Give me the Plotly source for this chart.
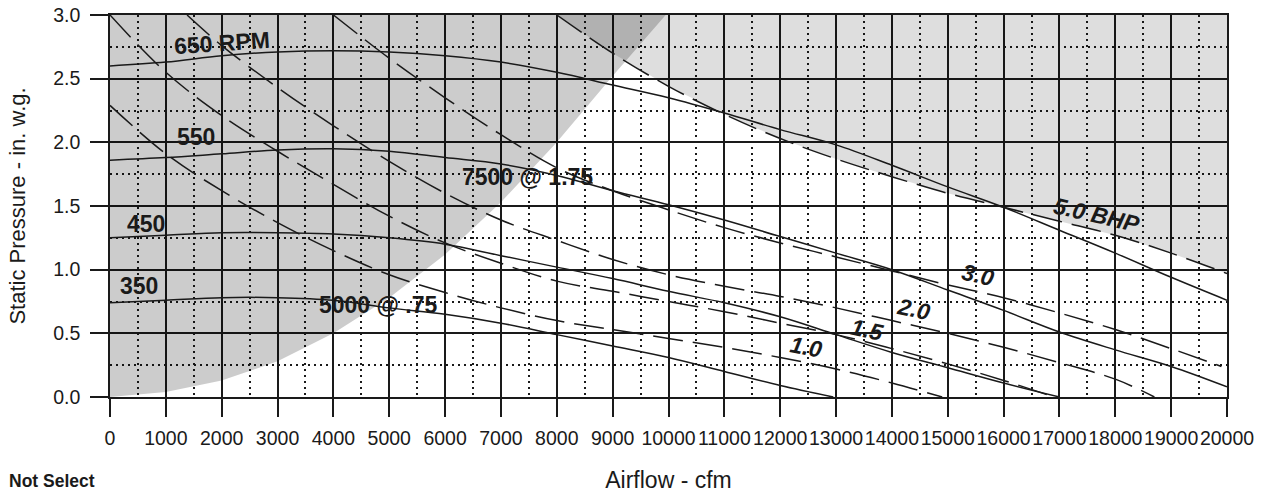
import plotly.graph_objects as go

# fan curves: airflow (cfm) vs static pressure (in. w.g.)
rpm_labels = ["650 RPM", "550", "450", "350"]

rpm650_x = [0, 1000, 2000, 3000, 4000, 5000, 6000, 7000, 8000, 9000, 10000,
            11000, 12000, 13000, 14000, 15000, 16000, 17000, 18000, 19000, 20000]
rpm650_y = [2.60, 2.63, 2.68, 2.71, 2.72, 2.71, 2.68, 2.63, 2.55, 2.45, 2.35,
            2.23, 2.10, 1.98, 1.82, 1.65, 1.49, 1.31, 1.13, 0.94, 0.76]

rpm550_x = [0, 1000, 2000, 3000, 4000, 5000, 6000, 7000, 8000, 9000, 10000,
            11000, 12000, 13000, 14000, 15000, 16000, 17000, 18000, 19000, 20000]
rpm550_y = [1.86, 1.88, 1.91, 1.94, 1.95, 1.93, 1.88, 1.83, 1.74, 1.62, 1.51,
            1.39, 1.26, 1.13, 1.00, 0.84, 0.68, 0.51, 0.37, 0.24, 0.08]

rpm450_x = [0, 1000, 2000, 3000, 4000, 5000, 6000, 7000, 8000, 9000, 10000,
            11000, 12000, 13000, 14000, 15000, 16000, 17000]
rpm450_y = [1.25, 1.27, 1.29, 1.29, 1.28, 1.25, 1.20, 1.11, 1.02, 0.93, 0.83,
            0.74, 0.63, 0.49, 0.35, 0.23, 0.11, 0.0]

rpm350_x = [0, 1000, 2000, 3000, 4000, 5000, 6000, 7000, 8000, 9000, 10000,
            11000, 12000, 12950]
rpm350_y = [0.74, 0.76, 0.78, 0.78, 0.76, 0.70, 0.65, 0.58, 0.49, 0.40, 0.31,
            0.20, 0.09, 0.0]

# brake horsepower lines (dashed)
bhp_labels = ["1.0", "1.5", "2.0", "3.0", "5.0 BHP"]

bhp10_x = [0, 1000, 2000, 3000, 4000, 5000, 6000, 7000, 8000, 9000, 10000,
           11000, 12000, 13000, 14000, 14900]
bhp10_y = [2.29, 1.91, 1.62, 1.37, 1.15, 0.96, 0.82, 0.70, 0.60, 0.53, 0.46,
           0.39, 0.31, 0.22, 0.11, 0.0]

bhp15_x = [0, 1000, 2000, 3000, 4000, 5000, 6000, 7000, 8000, 9000, 10000,
           11000, 12000, 13000, 14000, 15000, 16000, 16900]
bhp15_y = [3.0, 2.55, 2.21, 1.93, 1.67, 1.42, 1.21, 1.05, 0.91, 0.83, 0.75,
           0.67, 0.58, 0.49, 0.38, 0.26, 0.13, 0.0]

bhp20_x = [1380, 2000, 3000, 4000, 5000, 6000, 7000, 8000, 9000, 10000, 11000,
           12000, 13000, 14000, 15000, 16000, 17000, 18000, 18700]
bhp20_y = [3.0, 2.76, 2.43, 2.13, 1.85, 1.60, 1.39, 1.23, 1.08, 0.96, 0.87,
           0.79, 0.70, 0.60, 0.50, 0.39, 0.27, 0.14, 0.0]

bhp30_x = [4000, 5000, 6000, 7000, 8000, 9000, 10000, 11000, 12000, 13000,
           14000, 15000, 16000, 17000, 18000, 19000, 19900]
bhp30_y = [3.0, 2.66, 2.35, 2.06, 1.80, 1.62, 1.47, 1.33, 1.21, 1.10,
           0.99, 0.88, 0.78, 0.66, 0.53, 0.38, 0.24]

bhp50_x = [8000, 9000, 10000, 11000, 12000, 13000, 14000, 15000, 16000,
           17000, 18000, 19000, 20000]
bhp50_y = [3.0, 2.70, 2.44, 2.22, 2.03, 1.87, 1.73, 1.60, 1.49,
           1.38, 1.27, 1.13, 0.97]

# "do not select" zone (left of system curve) outline
zone_x = [0, 1000, 2000, 3000, 4000, 5000, 6000, 7000, 8000, 9000, 9950, 0]
zone_y = [0, 0.04, 0.13, 0.28, 0.50, 0.78, 1.12, 1.53, 2.0, 2.52, 3.0, 3.0]

# area above 5.0 BHP closed at the top-right corner
over_x = bhp50_x + [20000]
over_y = bhp50_y + [3.0]

point_labels = ["5000 @ .75", "7500 @ 1.75"]

FONT = "Liberation Sans, Arial, sans-serif"
INK = "#1a1a1a"

fig = go.Figure()

fig.add_trace(go.Scatter(x=zone_x, y=zone_y, fill="toself", mode="none",
                         fillcolor="rgba(0,0,0,0.20)", hoverinfo="skip"))
fig.add_trace(go.Scatter(x=over_x, y=over_y, fill="toself", mode="none",
                         fillcolor="rgba(0,0,0,0.13)", hoverinfo="skip"))

for xs, ys in [(rpm650_x, rpm650_y), (rpm550_x, rpm550_y),
               (rpm450_x, rpm450_y), (rpm350_x, rpm350_y)]:
    fig.add_trace(go.Scatter(x=xs, y=ys, mode="lines",
                             line=dict(color=INK, width=1.5, shape="spline")))

for xs, ys in [(bhp10_x, bhp10_y), (bhp15_x, bhp15_y), (bhp20_x, bhp20_y),
               (bhp30_x, bhp30_y), (bhp50_x, bhp50_y)]:
    fig.add_trace(go.Scatter(x=xs, y=ys, mode="lines",
                             line=dict(color=INK, width=1.5, shape="spline",
                                       dash="30px,10px")))

lab = dict(showarrow=False, xref="x", yref="y",
           font=dict(family=FONT, size=23, color=INK, weight="bold"))
rpm_pos = [(2000, 2.78, -4), (1540, 2.04, 0), (640, 1.36, 0), (520, 0.87, 0)]
for t, (px, py, a) in zip(rpm_labels, rpm_pos):
    fig.add_annotation(text=t, x=px, y=py, textangle=a, **lab)

pt_pos = [(4800, 0.72), (7470, 1.73)]
for t, (px, py) in zip(point_labels, pt_pos):
    fig.add_annotation(text=t, x=px, y=py, **lab)

bhp_pos = [(12460, 0.39, 10), (13570, 0.53, 12), (14380, 0.69, 12),
           (15540, 0.96, 13), (17670, 1.43, 13)]
for t, (px, py, a) in zip(bhp_labels, bhp_pos):
    fig.add_annotation(text=t, x=px, y=py, textangle=a, showarrow=False,
                       font=dict(family=FONT, size=23, color=INK,
                                 weight="bold", style="italic"))

fig.add_annotation(text="Not Select", xref="paper", yref="paper",
                   x=-0.0922, y=-0.22, xanchor="left", yanchor="middle",
                   showarrow=False,
                   font=dict(family=FONT, size=17.5, color=INK, weight="bold"))

axis_common = dict(showline=True, linecolor=INK, linewidth=1.5, mirror=True,
                   showgrid=True, gridcolor=INK, gridwidth=1.5,
                   ticks="outside", ticklen=18, tickwidth=1.5, tickcolor=INK,
                   zeroline=False, automargin=False, tickangle=0,
                   tickfont=dict(family=FONT, size=19.5, color=INK))

fig.update_xaxes(range=[0, 20000], dtick=1000, tick0=0, tickformat="d",
                 ticklabelstandoff=5,
                 title=dict(text="Airflow - cfm", standoff=24,
                            font=dict(family=FONT, size=23, color=INK)),
                 minor=dict(dtick=500, showgrid=True, gridcolor=INK,
                            gridwidth=1.5, griddash="2px,4px", ticks=""),
                 **axis_common)
fig.update_yaxes(range=[0, 3.0], dtick=0.5, tick0=0, tickformat=".1f",
                 ticklabelstandoff=6,
                 title=dict(text="Static Pressure - in. w.g.", standoff=22,
                            font=dict(family=FONT, size=22, color=INK)),
                 minor=dict(dtick=0.25, showgrid=True, gridcolor=INK,
                            gridwidth=1.5, griddash="2px,4px", ticks=""),
                 **axis_common)

fig.update_layout(width=1265, height=496,
                  margin=dict(l=110, r=38, t=15, b=99, autoexpand=False),
                  paper_bgcolor="white", plot_bgcolor="white",
                  showlegend=False)

fig.write_html("out.html", config={"displayModeBar": False},
               post_script="document.body.style.margin='0';")
